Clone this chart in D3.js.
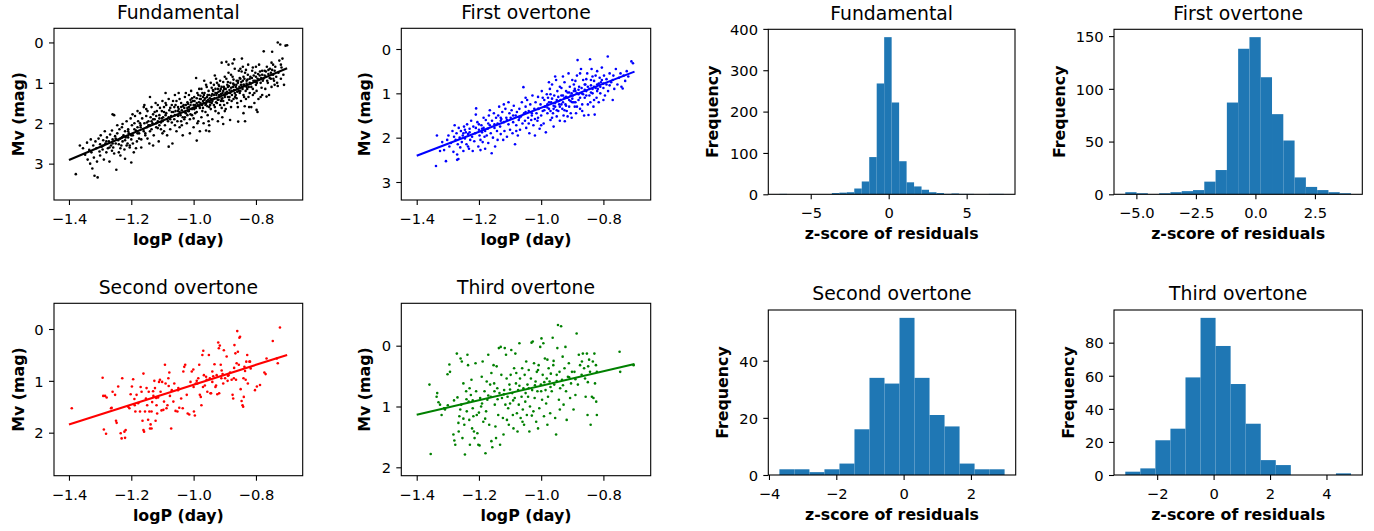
<!DOCTYPE html>
<html><head><meta charset="utf-8">
<script src="https://cdn.jsdelivr.net/npm/d3@7"></script>
<style>body{margin:0;background:#fff} text{font-family:"DejaVu Sans",sans-serif}</style>
</head><body><svg id="c" width="1374" height="531"></svg>
<script>
// ---------------- DATA ----------------
const panelTitles = ["Fundamental", "First overtone", "Second overtone", "Third overtone"];
const scatterColors = ["#000000", "#0000ff", "#ff0000", "#008000"];
const scatterXTicks = [-1.4, -1.2, -1.0, -0.8];
const scatterYTicks = [[0, 1, 2, 3], [0, 1, 2, 3], [0, 1, 2], [0, 1, 2]];
const fitX = [-1.4, -0.7];
const fundFit = [2.91, 0.64];
const firstFit = [2.41, 0.51];
const secondFit = [1.84, 0.50];
const thirdFit = [1.137, 0.30];

const fundPts = [
[-1.378,3.26],[-1.365,2.55],[-1.355,2.62],[-1.348,2.78],[-1.342,2.48],[-1.34,2.9],[-1.335,2.66],[-1.332,3.0],
[-1.33,2.4],[-1.328,2.72],[-1.325,3.12],[-1.322,2.55],[-1.32,2.85],[-1.318,3.3],[-1.315,2.45],[-1.312,2.62],[-1.31,2.95],[-1.308,3.34],[-1.305,2.38],[-1.302,2.7],[-1.3,2.52],[-1.3,2.8],
[-1.298,2.3],[-1.295,2.58],[-1.292,2.65],[-1.29,2.42],[-1.288,2.9],[-1.285,2.2],[-1.283,2.5],[-1.28,2.72],[-1.278,2.35],[-1.275,2.62],[-1.272,2.45],[-1.27,2.95],[-1.268,2.28],[-1.265,2.55],[-1.262,2.68],[-1.26,2.4],[-1.26,1.78],[-1.262,2.18],
[-1.258,2.6],[-1.255,1.8],[-1.252,2.32],[-1.25,2.5],[-1.248,3.15],[-1.245,2.25],[-1.242,2.42],[-1.24,2.72],[-1.238,2.15],[-1.235,2.38],[-1.232,2.55],[-1.23,2.1],[-1.228,2.45],[-1.225,2.3],[-1.222,2.65],[-1.22,2.2],[-1.22,2.88],[-1.235,2.8],[-1.245,2.05],[-1.228,2.02],
[-1.218,2.35],[-1.215,1.95],[-1.212,2.5],[-1.21,2.15],[-1.208,2.25],[-1.205,2.6],[-1.202,1.88],[-1.2,2.4],[-1.2,2.97],[-1.198,2.05],[-1.195,2.3],[-1.192,2.72],[-1.19,2.0],[-1.188,1.82],[-1.185,2.18],[-1.182,2.45],[-1.18,2.1],[-1.18,1.7],[-1.196,1.78],[-1.205,2.55],[-1.185,2.62],[-1.21,2.35],
[-1.178,1.95],[-1.175,2.25],[-1.172,1.75],[-1.17,2.05],[-1.168,2.4],[-1.165,1.88],[-1.162,2.15],[-1.16,1.6],[-1.158,2.0],[-1.155,2.3],[-1.152,1.82],[-1.15,2.1],[-1.148,1.7],[-1.145,1.95],[-1.142,2.5],[-1.14,1.35],[-1.14,2.2],[-1.138,1.85],[-1.158,1.55],[-1.168,2.6],[-1.148,2.38],[-1.172,2.0],[-1.152,1.65],[-1.145,2.05],
[-1.135,1.6],[-1.132,2.0],[-1.13,1.78],[-1.128,2.3],[-1.125,1.9],[-1.122,1.5],[-1.12,2.1],[-1.118,1.7],[-1.115,1.95],[-1.112,2.45],[-1.11,1.8],[-1.108,1.62],[-1.105,2.15],[-1.102,1.88],[-1.1,1.45],[-1.1,2.25],[-1.125,1.72],[-1.13,2.55],[-1.115,1.55],[-1.105,1.98],[-1.12,1.82],[-1.11,2.05],[-1.135,1.95],[-1.102,1.7],
[-1.098,1.85],[-1.095,1.6],[-1.092,2.05],[-1.09,1.5],[-1.088,1.75],[-1.085,2.3],[-1.082,1.95],[-1.08,1.4],[-1.078,1.68],[-1.075,2.15],[-1.072,1.82],[-1.07,1.55],[-1.068,2.5],[-1.065,1.72],[-1.062,1.9],[-1.06,1.3],[-1.06,2.05],[-1.09,1.25],[-1.075,1.62],[-1.085,1.9],[-1.066,1.45],[-1.08,2.58],[-1.07,1.98],[-1.095,2.2],[-1.062,1.6],[-1.088,1.55],
[-1.058,1.7],[-1.055,1.45],[-1.052,1.95],[-1.05,1.6],[-1.048,1.25],[-1.045,2.1],[-1.042,1.8],[-1.04,1.5],[-1.038,1.68],[-1.035,2.3],[-1.032,1.55],[-1.03,1.9],[-1.028,1.35],[-1.025,1.75],[-1.022,2.0],[-1.02,1.48],[-1.02,1.62],[-1.05,1.82],[-1.045,1.4],[-1.035,1.58],[-1.055,2.2],[-1.03,1.72],[-1.04,1.95],[-1.025,1.25],[-1.058,1.55],[-1.038,2.05],[-1.028,1.85],[-1.048,1.65],
[-1.018,1.7],[-1.015,1.3],[-1.012,1.9],[-1.01,1.55],[-1.008,1.2],[-1.005,1.8],[-1.002,1.45],[-1.0,2.1],[-1.0,1.62],[-0.998,1.35],[-0.995,1.75],[-0.992,0.88],[-0.99,2.43],[-0.99,1.5],[-0.988,1.25],[-0.985,1.95],[-0.982,1.58],[-0.98,1.4],[-0.98,2.2],[-1.015,1.6],[-1.008,1.48],[-1.0,1.88],[-0.995,1.55],[-1.012,2.25],[-0.985,1.3],[-1.005,1.38],[-0.998,1.65],[-1.018,1.52],[-0.99,1.72],[-0.982,1.15],[-1.01,1.78],[-0.988,2.0],
[-0.978,1.5],[-0.975,1.15],[-0.972,1.7],[-0.97,1.35],[-0.968,2.0],[-0.965,1.25],[-0.962,1.55],[-0.96,1.05],[-0.958,1.45],[-0.955,1.8],[-0.952,1.2],[-0.95,1.6],[-0.95,2.2],[-0.948,1.38],[-0.945,1.0],[-0.942,1.5],[-0.94,1.28],[-0.94,1.9],[-0.97,1.62],[-0.965,1.42],[-0.96,2.18],[-0.955,1.3],[-0.975,1.85],[-0.945,1.65],[-0.958,1.1],[-0.962,1.72],[-0.948,1.48],[-0.972,1.25],[-0.942,1.12],[-0.968,1.5],[-0.952,1.95],[-0.978,1.32],[-0.944,1.4],[-0.956,1.58],[-0.966,0.95],[-0.95,2.05],
[-0.938,1.4],[-0.935,1.05],[-0.932,1.6],[-0.93,1.25],[-0.928,0.9],[-0.925,1.5],[-0.922,1.15],[-0.92,1.75],[-0.918,1.3],[-0.915,0.95],[-0.912,1.45],[-0.91,1.1],[-0.908,1.85],[-0.905,1.2],[-0.902,1.55],[-0.9,0.85],[-0.9,1.35],[-0.935,1.3],[-0.93,1.7],[-0.925,1.0],[-0.92,1.42],[-0.915,1.2],[-0.91,1.62],[-0.905,0.98],[-0.938,1.18],[-0.928,1.48],[-0.918,1.08],[-0.912,1.28],[-0.902,1.15],[-0.932,0.82],[-0.922,1.95],[-0.908,1.38],[-0.9,1.7],[-0.915,1.55],[-0.935,1.55],[-0.92,1.05],[-0.925,1.25],[-0.905,1.45],
[-0.898,1.25],[-0.895,0.9],[-0.892,1.5],[-0.89,1.1],[-0.888,0.75],[-0.885,1.35],[-0.882,1.0],[-0.88,1.6],[-0.878,1.2],[-0.875,0.85],[-0.872,1.4],[-0.87,1.05],[-0.868,0.65],[-0.865,1.3],[-0.862,0.95],[-0.86,1.5],[-0.86,1.15],[-0.91,0.5],[-0.895,0.48],[-0.888,0.55],[-0.875,0.52],[-0.87,0.42],[-0.905,2.02],[-0.883,1.92],[-0.857,1.96],[-0.895,1.28],[-0.89,0.98],[-0.885,1.18],[-0.878,1.45],[-0.872,0.92],[-0.865,1.1],[-0.892,1.05],[-0.88,0.8],[-0.868,1.25],[-0.897,1.65],[-0.862,1.38],[-0.886,1.42],[-0.874,1.1],
[-0.858,1.0],[-0.855,0.7],[-0.852,1.25],[-0.85,0.9],[-0.848,1.45],[-0.845,1.1],[-0.842,0.6],[-0.84,1.3],[-0.84,0.85],[-0.838,1.05],[-0.835,0.75],[-0.832,1.4],[-0.83,0.95],[-0.828,1.15],[-0.825,0.55],[-0.822,1.6],[-0.82,1.0],[-0.82,1.25],[-0.845,0.4],[-0.84,1.75],[-0.835,1.95],[-0.855,1.2],[-0.85,0.65],[-0.848,1.05],[-0.842,0.95],[-0.838,1.35],[-0.83,1.1],[-0.826,0.8],[-0.852,0.88],[-0.836,1.58],[-0.824,1.35],[-0.858,1.6],[-0.846,0.72],[-0.832,0.68],
[-0.818,0.85],[-0.815,1.1],[-0.812,0.7],[-0.81,1.3],[-0.808,0.95],[-0.805,1.5],[-0.802,0.75],[-0.8,1.05],[-0.8,0.6],[-0.798,1.2],[-0.795,0.9],[-0.792,1.4],[-0.79,0.55],[-0.788,0.82],[-0.785,1.0],[-0.782,1.12],[-0.78,1.3],[-0.78,0.7],[-0.815,1.6],[-0.81,0.62],[-0.805,1.25],[-0.795,1.72],[-0.785,1.35],[-0.8,0.98],[-0.798,1.67],[-0.766,1.34],
[-0.778,0.95],[-0.775,0.22],[-0.772,0.7],[-0.77,1.15],[-0.768,0.85],[-0.765,0.6],[-0.762,1.0],[-0.76,0.78],[-0.758,1.3],[-0.755,0.65],[-0.752,0.9],[-0.75,0.5],[-0.75,1.1],[-0.748,0.23],[-0.745,0.8],[-0.742,0.95],[-0.74,0.7],[-0.74,1.05],
[-0.738,0.6],[-0.735,0.85],[-0.732,1.0],[-0.73,0.0],[-0.728,0.75],[-0.725,0.45],[-0.722,0.05],[-0.72,0.9],[-0.718,0.62],[-0.715,0.4],[-0.712,0.8],[-0.71,1.05],[-0.705,0.08],[-0.7,0.07],[-0.72,0.55],[-0.73,1.08],[-0.745,0.55],
[-1.045,1.72],[-1.04,1.6],[-1.035,1.85],[-1.03,1.62],[-1.025,1.55],[-1.02,1.8],[-1.015,1.7],[-1.01,1.42],[-1.005,1.65],[-1.0,1.55],[-0.997,1.45],[-0.993,1.62],[-0.99,1.38],[-0.987,1.55],[-0.983,1.48],[-0.98,1.62],[-0.977,1.4],[-0.973,1.55],[-0.97,1.45],[-0.967,1.3],[-0.963,1.38],[-0.96,1.52],[-0.957,1.35],[-0.953,1.42],[-0.95,1.3],[-0.947,1.55],[-0.943,1.32],[-0.94,1.45],[-0.937,1.2],[-0.933,1.38],[-0.93,1.15],[-0.927,1.3],[-0.923,1.42],[-0.92,1.22],[-0.917,1.35],[-0.913,1.15],[-0.91,1.4],[-0.907,1.25],[-0.903,1.1],[-0.9,1.3],[-0.897,1.15],[-0.893,1.22],[-0.89,1.35],[-0.887,1.08],[-0.883,1.25],[-0.88,1.12],[-0.877,1.3],[-0.873,1.02],[-0.87,1.18],[-0.867,1.35],[-0.863,1.05],[-0.86,1.22],[-0.857,0.95],[-0.853,1.1],[-0.85,1.2],[-0.847,0.98],[-0.843,1.15],[-0.84,1.05],[-0.837,0.9],[-0.833,1.2],[-0.83,1.02],[-0.827,0.92],[-0.823,1.1],[-0.82,0.9],[-0.817,1.02],[-0.813,0.88],[-0.81,1.15],[-0.807,0.82],[-0.803,0.95],[-0.8,0.85],[-0.797,1.0],[-0.793,0.78],[-0.79,0.92],[-0.787,0.72],[-0.783,0.88],[-0.78,0.8],[-0.776,0.9],[-0.772,0.82],[-0.768,0.72],[-0.764,0.95],[-0.76,0.68],[-0.756,0.88],[-0.752,0.75],[-0.748,0.68],[-0.744,0.9],
[-1.29,2.55],[-1.28,2.45],[-1.27,2.6],[-1.26,2.5],[-1.25,2.38],[-1.24,2.52],[-1.23,2.35],[-1.22,2.42],[-1.21,2.2],[-1.2,2.3],[-1.19,2.15],[-1.18,2.25],[-1.17,2.1],[-1.16,2.2],[-1.15,1.98],[-1.14,2.05],[-1.13,1.9],[-1.12,2.0],[-1.11,1.88],[-1.1,1.95],[-1.09,1.8],[-1.08,1.85],[-1.07,1.72],[-1.06,1.8],[-1.05,1.7],[-1.075,1.9],[-1.095,1.72],[-1.115,2.12],[-1.135,2.15],[-1.155,2.25],[-1.175,2.38],[-1.195,2.5],[-1.215,2.55],[-1.235,2.62],[-1.255,2.75]
];

const firstPts = [
[-1.338,2.64],[-1.335,1.95],[-1.325,2.3],[-1.318,2.1],[-1.312,2.28],[-1.306,2.53],[-1.302,2.05],
[-1.298,1.95],[-1.295,2.2],[-1.29,2.12],[-1.285,1.85],[-1.282,2.32],[-1.278,1.72],[-1.275,2.05],[-1.272,1.9],[-1.27,2.5],[-1.268,2.15],[-1.266,2.48],[-1.265,1.78],[-1.262,2.0],[-1.26,2.22],[-1.28,1.98],[-1.27,2.38],
[-1.258,1.85],[-1.255,2.1],[-1.252,1.95],[-1.25,2.3],[-1.248,1.75],[-1.245,2.02],[-1.242,1.88],[-1.24,2.15],[-1.238,1.7],[-1.235,1.92],[-1.232,2.25],[-1.23,1.8],[-1.228,2.05],[-1.225,1.62],[-1.222,1.98],[-1.22,2.3],[-1.245,1.82],[-1.235,2.2],
[-1.218,1.75],[-1.215,2.08],[-1.212,1.9],[-1.209,1.34],[-1.205,1.65],[-1.202,2.2],[-1.2,1.82],[-1.198,1.95],[-1.195,2.28],[-1.192,1.72],[-1.19,1.88],[-1.188,2.1],[-1.185,1.55],[-1.182,1.98],[-1.18,1.85],[-1.18,2.25],[-1.2,1.7],[-1.21,1.48],[-1.195,2.05],[-1.185,1.78],
[-1.178,1.6],[-1.175,1.95],[-1.172,1.8],[-1.17,2.12],[-1.168,1.5],[-1.165,1.72],[-1.162,1.9],[-1.159,2.35],[-1.158,1.62],[-1.155,2.0],[-1.152,1.45],[-1.15,1.78],[-1.148,2.2],[-1.145,1.55],[-1.142,1.85],[-1.14,1.68],[-1.14,2.05],[-1.165,1.38],
[-1.138,1.5],[-1.135,1.3],[-1.132,1.75],[-1.13,1.92],[-1.128,1.58],[-1.125,1.42],[-1.122,2.05],[-1.12,1.65],[-1.118,1.85],[-1.115,1.35],[-1.112,1.55],[-1.11,1.98],[-1.105,1.2],[-1.105,1.7],[-1.102,1.45],[-1.1,1.82],[-1.12,1.25],[-1.13,1.62],
[-1.098,1.55],[-1.095,1.38],[-1.092,1.9],[-1.09,1.65],[-1.088,1.28],[-1.084,2.15],[-1.082,1.5],[-1.08,1.72],[-1.078,1.42],[-1.075,1.95],[-1.072,1.6],[-1.07,1.35],[-1.068,1.82],[-1.065,1.52],[-1.062,1.2],[-1.06,1.68],[-1.057,0.86],[-1.08,1.85],
[-1.055,1.45],[-1.052,1.62],[-1.05,1.3],[-1.048,1.78],[-1.045,1.15],[-1.042,1.55],[-1.04,1.4],[-1.038,1.9],[-1.035,1.25],[-1.032,1.6],[-1.03,1.5],[-1.028,1.05],[-1.025,1.72],[-1.022,1.35],[-1.02,1.58],[-1.02,1.95],[-1.04,1.68],[-1.05,1.1],
[-1.018,1.2],[-1.015,1.45],[-1.012,1.62],[-1.01,1.08],[-1.008,1.35],[-1.005,1.8],[-1.002,1.25],[-1.0,1.5],[-0.998,0.95],[-0.995,1.4],[-0.992,1.68],[-0.99,1.15],[-0.988,1.3],[-0.985,1.88],[-0.982,1.02],[-0.98,1.45],[-0.98,1.25],[-1.01,1.55],[-0.995,1.1],[-1.0,1.72],
[-0.978,1.1],[-0.975,1.35],[-0.972,0.9],[-0.97,1.6],[-0.968,1.2],[-0.965,0.8],[-0.962,1.45],[-0.96,1.75],[-0.958,1.05],[-0.955,1.3],[-0.952,0.7],[-0.95,1.52],[-0.95,1.15],[-0.948,0.95],[-0.945,1.4],[-0.942,1.25],[-0.94,0.85],[-0.94,1.62],[-0.97,1.02],[-0.96,1.28],[-0.955,0.62],[-0.965,1.55],[-0.945,1.08],[-0.975,0.75],
[-0.938,1.15],[-0.935,0.88],[-0.932,1.35],[-0.93,1.05],[-0.928,1.5],[-0.925,0.75],[-0.924,1.63],[-0.922,1.25],[-0.92,0.95],[-0.918,1.4],[-0.915,1.1],[-0.912,0.55],[-0.91,1.3],[-0.908,0.85],[-0.905,1.45],[-0.902,1.0],[-0.9,1.2],[-0.9,0.7],[-0.935,1.25],[-0.93,0.62],[-0.92,1.08],[-0.915,1.52],[-0.91,0.98],[-0.905,1.18],[-0.925,1.38],[-0.902,1.55],
[-0.898,1.05],[-0.895,0.8],[-0.892,1.3],[-0.89,0.95],[-0.888,1.45],[-0.885,0.6],[-0.883,0.25],[-0.88,1.15],[-0.878,0.85],[-0.875,1.35],[-0.872,0.45],[-0.87,1.0],[-0.868,1.25],[-0.865,0.7],[-0.862,1.5],[-0.86,0.92],[-0.86,1.1],[-0.895,1.2],[-0.89,0.72],[-0.88,1.02],[-0.875,0.55],[-0.868,1.4],[-0.885,1.3],[-0.892,0.9],
[-0.858,0.8],[-0.855,1.05],[-0.852,0.55],[-0.848,1.49],[-0.845,0.9],[-0.843,0.23],[-0.842,1.2],[-0.84,0.7],[-0.838,0.45],[-0.835,1.0],[-0.832,1.3],[-0.83,0.85],[-0.828,1.48],[-0.825,0.6],[-0.822,1.1],[-0.82,0.8],[-0.82,0.5],[-0.85,1.25],[-0.84,0.98],[-0.835,0.62],[-0.83,1.15],[-0.855,0.68],
[-0.818,0.9],[-0.815,1.2],[-0.812,0.65],[-0.81,1.0],[-0.808,0.75],[-0.805,0.42],[-0.8,0.88],[-0.8,1.15],[-0.798,0.6],[-0.795,1.05],[-0.79,0.8],[-0.786,0.17],[-0.785,0.95],[-0.78,0.55],
[-0.775,0.75],[-0.77,1.15],[-0.768,0.6],[-0.765,0.9],[-0.76,0.45],[-0.755,0.8],[-0.75,0.65],[-0.745,0.55],[-0.742,0.85],[-0.738,0.89],[-0.735,0.6],[-0.73,0.72],[-0.725,0.5],[-0.72,0.62],[-0.71,0.28],[-0.705,0.32],
[-0.98,1.32],[-0.975,1.2],[-0.97,1.4],[-0.965,1.12],[-0.96,1.35],[-0.955,1.22],[-0.95,1.38],[-0.945,1.18],[-0.94,1.3],[-0.935,1.05],[-0.93,1.2],[-0.925,1.1],[-0.92,1.28],[-0.915,0.98],[-0.91,1.15],[-0.905,1.05],[-0.9,1.12],[-0.895,0.95],[-0.89,1.2],[-0.885,1.0],[-0.88,0.92],[-0.875,1.1],[-0.87,0.88],[-0.865,1.02],[-0.86,0.8],[-0.855,0.95],[-0.85,0.85],[-0.845,1.05],[-0.84,0.82],[-0.835,0.9],[-0.83,0.72],[-0.825,0.88],[-0.82,0.95],[-0.815,0.78],[-0.81,0.85],[-0.805,0.7],[-0.8,0.78],[-0.79,0.68],[-0.78,0.82],[-0.77,0.7],
[-1.25,1.9],[-1.23,1.88],[-1.21,1.78],[-1.19,1.8],[-1.17,1.68],[-1.15,1.7],[-1.13,1.55],[-1.11,1.6],[-1.09,1.5],[-1.07,1.55],[-1.05,1.42],[-1.03,1.45],[-1.01,1.35],[-0.99,1.38]
];

const secondPts = [
[-1.391,1.53],[-1.292,0.94],[-1.29,1.29],[-1.284,1.29],[-1.279,1.32],[-1.288,1.94],[-1.281,2.02],[-1.265,1.53],[-1.263,1.52],[-1.26,1.21],[-1.252,1.27],[-1.249,1.77],[-1.247,1.81],[-1.242,1.11],[-1.234,2.01],[-1.231,2.11],[-1.229,0.95],[-1.222,1.98],[-1.22,2.10],[-1.218,1.95],[-1.21,1.5],[-1.206,1.53],[-1.202,1.26],[-1.198,1.11],[-1.194,0.97],[-1.189,1.47],[-1.187,1.59],[-1.183,1.27],[-1.178,1.43],[-1.172,1.59],[-1.167,1.21],[-1.164,1.77],[-1.161,0.86],[-1.161,1.95],[-1.159,1.98],[-1.156,1.59],[-1.153,1.34],[-1.151,1.14],[-1.149,1.47],[-1.146,1.75],[-1.144,1.21],[-1.142,1.59],[-1.14,1.92],[-1.138,1.84],[-1.135,1.92],[-1.135,1.59],[-1.133,1.41],[-1.129,1.29],[-1.126,1.0],[-1.124,1.14],[-1.122,1.77],[-1.119,1.47],[-1.117,1.63],[-1.114,1.32],[-1.111,1.02],[-1.108,0.98],[-1.106,1.21],[-1.103,1.57],[-1.101,1.02],[-1.097,1.56],[-1.095,1.40],[-1.092,0.69],[-1.09,1.05],[-1.087,1.53],[-1.084,1.47],[-1.081,0.95],[-1.078,0.84],[-1.076,1.29],[-1.072,1.92],[-1.07,1.18],[-1.065,1.40],[-1.062,1.05],[-1.058,1.58],[-1.052,1.59],[-1.049,1.14],[-1.046,1.52],[-1.04,1.34],[-1.035,1.53],[-1.033,0.82],[-1.03,0.73],[-1.027,0.69],[-1.022,1.27],[-1.019,1.63],[-1.014,1.65],[-1.006,0.82],[-1.001,0.78],[-0.999,1.59],[-0.996,1.67],[-0.993,1.05],[-0.988,1.05],[-0.985,0.95],[-0.982,0.69],[-0.98,1.27],[-0.977,1.31],[-0.975,1.47],[-0.972,0.50],[-0.969,0.42],[-0.967,0.89],[-0.964,1.09],[-0.958,0.98],[-0.956,1.21],[-0.951,0.50],[-0.948,0.95],[-0.946,1.24],[-0.944,1.24],[-0.94,0.82],[-0.937,0.91],[-0.933,0.68],[-0.928,1.09],[-0.926,0.89],[-0.924,1.26],[-0.921,0.26],[-0.919,0.37],[-0.918,1.24],[-0.916,0.32],[-0.913,0.69],[-0.911,0.95],[-0.907,0.87],[-0.905,1.05],[-0.903,0.41],[-0.899,0.95],[-0.894,0.53],[-0.891,1.0],[-0.888,0.89],[-0.883,0.84],[-0.878,0.98],[-0.875,1.27],[-0.873,1.34],[-0.871,0.95],[-0.869,0.31],[-0.866,0.47],[-0.864,0.98],[-0.862,0.66],[-0.86,0.04],[-0.858,0.44],[-0.855,0.69],[-0.853,0.17],[-0.851,0.15],[-0.849,1.16],[-0.846,1.39],[-0.843,1.47],[-0.841,1.5],[-0.839,1.31],[-0.837,0.73],[-0.835,0.81],[-0.833,0.98],[-0.831,0.63],[-0.828,0.5],[-0.826,1.05],[-0.821,0.63],[-0.819,0.63],[-0.817,0.76],[-0.803,1.18],[-0.797,1.11],[-0.787,1.08],[-0.773,0.84],[-0.769,0.87],[-0.766,0.57],[-0.746,0.23],[-0.733,0.57],[-0.73,0.66],[-0.723,-0.03],
[-1.17,1.12],[-1.19,1.35],[-1.13,1.2],[-1.08,1.1],[-1.05,1.18],[-1.01,1.02],[-0.99,1.0],[-0.96,0.92],[-0.94,1.02],[-0.91,0.8],[-0.89,0.9],[-0.87,0.75],[-0.84,0.95],[-1.12,1.33],[-1.0,1.12],[-0.97,1.12],[-0.93,1.12]
];

const thirdPts = [
[-1.359,0.64],[-1.355,1.78],[-1.336,0.84],[-1.334,0.78],[-1.33,0.93],[-1.325,0.97],[-1.32,1.14],[-1.312,1.03],[-1.309,1.05],[-1.301,0.47],[-1.295,0.31],[-1.293,0.43],[-1.282,1.46],[-1.279,1.56],[-1.276,1.63],[-1.271,0.13],[-1.269,0.85],[-1.266,1.27],[-1.265,1.41],[-1.263,1.16],[-1.259,0.21],[-1.257,0.97],[-1.255,0.26],[-1.253,1.52],[-1.25,0.62],[-1.247,1.30],[-1.245,1.79],[-1.241,0.75],[-1.239,1.08],[-1.237,0.15],[-1.235,0.32],[-1.233,0.92],[-1.231,1.22],[-1.229,1.63],[-1.226,0.81],[-1.224,0.56],[-1.222,1.36],[-1.22,1.03],[-1.218,1.16],[-1.216,1.41],[-1.214,1.52],[-1.211,0.29],[-1.209,0.75],[-1.207,1.14],[-1.205,1.44],[-1.202,1.63],[-1.198,1.64],[-1.196,0.86],[-1.193,1.0],[-1.191,0.51],[-1.188,0.26],[-1.186,1.25],[-1.182,0.75],[-1.179,1.77],[-1.177,1.08],[-1.175,0.59],[-1.173,0.89],[-1.17,0.15],[-1.167,1.30],[-1.164,0.64],[-1.162,0.84],[-1.16,1.57],[-1.157,1.67],[-1.153,0.32],[-1.151,0.62],[-1.149,0.97],[-1.147,1.33],[-1.145,1.52],[-1.143,0.34],[-1.141,0.70],[-1.138,1.14],[-1.136,0.04],[-1.134,0.78],[-1.132,1.63],[-1.13,0.02],[-1.128,0.48],[-1.126,0.86],[-1.123,1.19],[-1.121,1.46],[-1.119,0.73],[-1.117,0.04],[-1.115,0.97],[-1.113,0.15],[-1.111,0.54],[-1.108,0.84],[-1.106,1.03],[-1.104,1.30],[-1.102,0.64],[-1.1,0.95],[-1.098,0.48],[-1.096,0.07],[-1.093,0.78],[-1.091,1.14],[-1.089,1.36],[-1.087,0.37],[-1.085,0.86],[-1.083,0.13],[-1.081,0.62],[-1.078,1.11],[-1.076,1.41],[-1.074,0.73],[-1.072,0.97],[-1.07,-0.04],[-1.068,0.54],[-1.066,1.19],[-1.063,0.84],[-1.061,0.37],[-1.059,1.05],[-1.057,0.70],[-1.055,1.30],[-1.053,0.48],[-1.051,0.92],[-1.048,0.26],[-1.046,1.14],[-1.044,0.64],[-1.042,0.84],[-1.04,0.40],[-1.038,1.41],[-1.036,1.0],[-1.033,0.54],[-1.031,-0.05],[-1.029,0.73],[-1.027,-0.07],[-1.025,1.08],[-1.023,0.29],[-1.021,0.86],[-1.018,0.59],[-1.016,1.25],[-1.014,0.43],[-1.012,0.75],[-1.01,1.36],[-1.008,0.32],[-1.006,1.03],[-1.003,0.02],[-1.001,0.64],[-0.999,-0.12],[-0.997,0.89],[-0.995,0.48],[-0.993,-0.04],[-0.991,1.16],[-0.988,0.21],[-0.986,0.73],[-0.984,0.95],[-0.982,0.54],[-0.98,0.23],[-0.978,0.84],[-0.976,0.37],[-0.973,0.59],[-0.971,1.11],[-0.969,0.46],[-0.966,0.75],[-0.963,-0.13],[-0.961,0.32],[-0.958,0.64],[-0.955,1.19],[-0.952,1.46],[-0.95,0.48],[-0.948,0.04],[-0.946,-0.34],[-0.943,0.89],[-0.941,0.43],[-0.939,0.70],[-0.936,-0.32],[-0.933,0.56],[-0.931,0.18],[-0.928,0.97],[-0.925,0.37],[-0.922,0.02],[-0.92,0.75],[-0.918,1.22],[-0.914,0.51],[-0.911,0.29],[-0.907,0.86],[-0.904,0.62],[-0.901,0.43],[-0.896,1.05],[-0.893,0.43],[-0.89,0.81],[-0.886,-0.20],[-0.882,0.64],[-0.879,0.15],[-0.875,0.32],[-0.869,0.26],[-0.866,0.13],[-0.862,0.37],[-0.859,0.54],[-0.857,0.84],[-0.853,0.13],[-0.851,1.14],[-0.849,0.34],[-0.846,0.23],[-0.843,0.43],[-0.841,1.30],[-0.837,0.84],[-0.834,0.26],[-0.832,0.86],[-0.829,0.13],[-0.827,0.62],[-0.824,0.32],[-0.823,0.92],[-0.821,1.14],[-0.821,0.43],[-0.748,0.10],[-0.746,0.43],[-0.703,0.32],
[-1.3,0.98],[-1.28,0.9],[-1.26,1.05],[-1.24,0.88],[-1.22,0.9],[-1.2,1.1],[-1.19,0.95],[-1.17,0.82],[-1.15,0.75],[-1.14,0.88],[-1.12,0.8],[-1.1,0.72],[-1.09,0.9],[-1.07,0.66],[-1.05,0.78],[-1.04,0.7],[-1.02,0.65],[-1.0,0.75],[-0.99,0.6],[-0.97,0.68],[-0.95,0.58],[-0.93,0.65],[-0.91,0.52],[-0.89,0.55],[-0.87,0.48],[-0.85,0.6],[-1.25,1.2],[-1.18,1.2],[-1.11,1.22],[-1.06,1.25],[-1.03,1.15],[-0.98,1.3],[-0.94,1.05],[-1.23,0.7],[-1.16,0.45],[-1.08,0.45],[-1.01,0.4],[-0.96,0.25]
];

// histogram counts of z-scores (equal-width bins between the given min and max)
const fundCounts   = [1,0,0,0,0,0,0,3,4,5,14,31,90,268,380,222,80,29,19,11,5,3,1,2,1,1,0,0,1,1];
const fundRange    = [-7.0, 7.38];
const firstCounts  = [2,1,0,1,2,3,4,12,23,87,138,149,111,76,51,16,7,4,2,1];
const firstRange   = [-5.466, 4.016];
const secondCounts = [2,2,1,2,4,16,34,32,55,34,21,17,4,2,2];
const secondRange  = [-3.69, 3.0];
const thirdCounts  = [2,4,21,28,59,95,78,55,31,9,6,0,0,0,1];
const thirdRange   = [-3.13, 4.87];

const histXTicks = [[-5, 0, 5], [-5.0, -2.5, 0.0, 2.5], [-4, -2, 0, 2], [-2, 0, 2, 4]];
const histYTicks = [[0, 100, 200, 300, 400], [0, 50, 100, 150], [0, 20, 40], [0, 20, 40, 60, 80]];
const histXFormats = ["d", ".1f", "d", "d"];

// ---------------- LAYOUT ----------------
const scatterLayout = [
  {box:[54,28.3,302.7,200],     xd:[-1.448,-0.650], yd:[-0.35,3.9],    labX:23.5},
  {box:[401.3,28.3,650.7,200],  xd:[-1.4495,-0.648], yd:[-0.467,3.406], labX:370},
  {box:[54,303.3,302.7,475.7],  xd:[-1.448,-0.650], yd:[-0.496,2.83],  labX:23.5},
  {box:[401.3,303.3,650.7,475.7],xd:[-1.4495,-0.648], yd:[-0.697,2.138], labX:370}
];
const histLayout = [
  {box:[768.3,29.3,1015,194.3],  xd:[-7.72,8.1],  yd:[0,399],    labX:718.3},
  {box:[1114,29.3,1362.3,194.3], xd:[-5.94,4.49], yd:[0,156.45], labX:1065},
  {box:[768.3,310,1015.7,475],   xd:[-4.02,3.33], yd:[0,57.75],  labX:728},
  {box:[1114,310,1362.3,475],    xd:[-3.53,5.27], yd:[0,99.75],  labX:1074}
];

const svg = d3.select("#c");
svg.append("rect").attr("width",1374).attr("height",531).attr("fill","#fff");

const TICK_FS = 14.7, LAB_FS = 15.8, TITLE_FS = 18.8;

function frame(L, title, xlabel, ylabel, sx, sy, xt, yt, xfmt, yfmt) {
  const [x0,y0,x1,y1] = L.box;
  const g = svg.append("g");
  const ax = d3.axisBottom(sx).tickValues(xt).tickFormat(d3.format(xfmt)).tickSize(5).tickPadding(8.6);
  const gx = g.append("g").attr("transform",`translate(0,${y1})`).call(ax);
  const ay = d3.axisLeft(sy).tickValues(yt).tickFormat(d3.format(yfmt)).tickSize(5).tickPadding(5.3);
  const gy = g.append("g").attr("transform",`translate(${x0},0)`).call(ay);
  [gx,gy].forEach(a => {
    a.select(".domain").remove();
    a.selectAll("line").attr("stroke","#000").attr("stroke-width",1.1);
    a.selectAll("text").attr("fill","#000").style("font-family","DejaVu Sans").style("font-size",TICK_FS+"px");
  });
  gy.selectAll("text").attr("dy","0.36em");
  g.append("rect").attr("x",x0).attr("y",y0).attr("width",x1-x0).attr("height",y1-y0)
    .attr("fill","none").attr("stroke","#000").attr("stroke-width",1.1);
  g.append("text").attr("x",(x0+x1)/2).attr("y",y0-9.6).attr("text-anchor","middle")
    .style("font-size",TITLE_FS+"px").text(title);
  g.append("text").attr("x",(x0+x1)/2).attr("y",y1+45).attr("text-anchor","middle")
    .style("font-size",LAB_FS+"px").style("font-weight","bold").text(xlabel);
  g.append("text").attr("transform",`translate(${L.labX},${(y0+y1)/2}) rotate(-90)`).attr("text-anchor","middle")
    .style("font-size",LAB_FS+"px").style("font-weight","bold").text(ylabel);
}

const scatterSets = [fundPts, firstPts, secondPts, thirdPts];
const fits = [fundFit, firstFit, secondFit, thirdFit];
const dotR = [1.3, 1.3, 1.3, 1.3];

scatterLayout.forEach((L, i) => {
  const [x0,y0,x1,y1] = L.box;
  const sx = d3.scaleLinear().domain(L.xd).range([x0,x1]);
  const sy = d3.scaleLinear().domain(L.yd).range([y0,y1]);
  const g = svg.append("g");
  g.selectAll("circle").data(scatterSets[i]).join("circle")
    .attr("cx", d => sx(d[0])).attr("cy", d => sy(d[1])).attr("r", dotR[i])
    .attr("fill", scatterColors[i]);
  const line = d3.line().x(d => sx(d[0])).y(d => sy(d[1]));
  g.append("path").datum(fitX.map((x,k) => [x, fits[i][k]])).attr("d", line)
    .attr("stroke", scatterColors[i]).attr("stroke-width", 2.1).attr("fill","none");
  frame(L, panelTitles[i], "logP (day)", "Mv (mag)", sx, sy, scatterXTicks, scatterYTicks[i], ".1f", "d");
});

const histSets = [[fundCounts,fundRange],[firstCounts,firstRange],[secondCounts,secondRange],[thirdCounts,thirdRange]];
histLayout.forEach((L, i) => {
  const [x0,y0,x1,y1] = L.box;
  const sx = d3.scaleLinear().domain(L.xd).range([x0,x1]);
  const sy = d3.scaleLinear().domain(L.yd).range([y1,y0]);
  const [counts, range] = histSets[i];
  const w = (range[1]-range[0]) / counts.length;
  const bins = counts.map((c,k) => ({x0: range[0]+k*w, x1: range[0]+(k+1)*w, c}));
  svg.append("g").selectAll("rect").data(bins.filter(b => b.c > 0)).join("rect")
    .attr("x", b => sx(b.x0)).attr("width", b => sx(b.x1)-sx(b.x0))
    .attr("y", b => sy(b.c)).attr("height", b => sy(0)-sy(b.c))
    .attr("fill","#1f77b4");
  frame(L, panelTitles[i], "z-score of residuals", "Frequency", sx, sy, histXTicks[i], histYTicks[i], histXFormats[i], "d");
});
</script></body></html>
